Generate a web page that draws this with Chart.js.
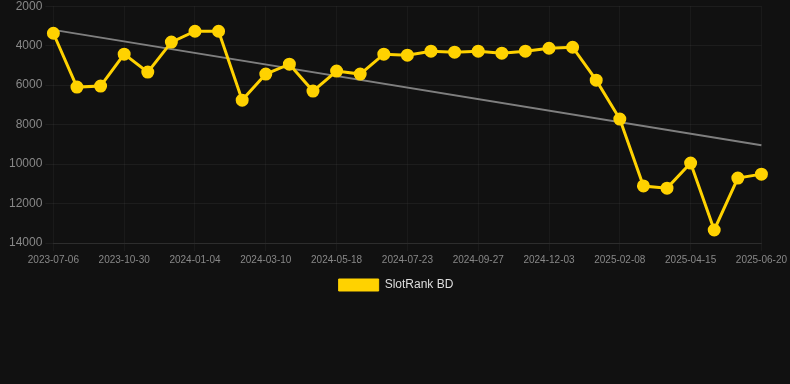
<!DOCTYPE html>
<html>
<head>
<meta charset="utf-8">
<script src="https://cdn.jsdelivr.net/npm/chart.js@4/dist/chart.umd.min.js"></script>
<style>
  html, body { margin: 0; padding: 0; background: #111111; overflow: hidden; }
  #wrap { position: relative; width: 790px; height: 305px; margin-top: -4px; }
</style>
</head>
<body>
<div id="wrap"><canvas id="c"></canvas></div>
<script>
const dates = [
  "2023-07-06","2023-08-12","2023-09-22","2023-10-30","2023-11-21","2023-12-12",
  "2024-01-04","2024-01-26","2024-02-17","2024-03-10","2024-04-02","2024-04-25",
  "2024-05-18","2024-06-08","2024-07-01","2024-07-23","2024-08-14","2024-09-05",
  "2024-09-27","2024-10-19","2024-11-11","2024-12-03","2024-12-25","2025-01-17",
  "2025-02-08","2025-03-01","2025-03-23","2025-04-15","2025-05-07","2025-05-29",
  "2025-06-20"
];
const slotRank = [
  3370, 6100, 6050, 4430, 5340, 3820,
  3270, 3270, 6760, 5440, 4940, 6300,
  5290, 5440, 4430, 4480, 4280, 4330,
  4280, 4380, 4280, 4130, 4080, 5750,
  7720, 11110, 11220, 9950, 13340, 10710,
  10510
];
const trendEnds = [3200, 9050];
const yTicks = [2000, 4000, 6000, 8000, 10000, 12000, 14000];

const trend = dates.map((d, i) => i === 0 ? trendEnds[0] : (i === dates.length - 1 ? trendEnds[1] : null));

new Chart(document.getElementById('c'), {
  type: 'line',
  data: {
    labels: dates,
    datasets: [
      {
        label: 'SlotRank BD',
        data: slotRank,
        borderColor: '#ffd200',
        backgroundColor: '#ffd200',
        borderWidth: 3,
        pointRadius: 5,
        pointHoverRadius: 5,
        pointBackgroundColor: '#ffd200',
        pointBorderColor: '#ffd200',
        tension: 0,
        order: 1
      },
      {
        label: 'trend',
        data: trend,
        spanGaps: true,
        borderColor: 'rgba(140,140,140,0.9)',
        borderWidth: 2,
        pointRadius: 0,
        fill: false,
        order: 2
      }
    ]
  },
  options: {
    responsive: true,
    maintainAspectRatio: false,
    animation: false,
    layout: { padding: { left: 6, right: 4, top: 0, bottom: 0 } },
    plugins: {
      legend: {
        position: 'bottom',
        labels: {
          color: '#dddddd',
          font: { family: 'Arial, "Liberation Sans", sans-serif', size: 12 },
          boxWidth: 40,
          boxHeight: 12,
          generateLabels: (chart) => {
            const items = Chart.defaults.plugins.legend.labels.generateLabels(chart);
            return items.filter(it => it.text !== 'trend').map(it => Object.assign(it, { lineWidth: 1 }));
          }
        }
      },
      tooltip: { enabled: false }
    },
    scales: {
      x: {
        offset: false,
        grid: { color: 'rgba(255,255,255,0.04)', drawTicks: true },
        border: { color: 'rgba(255,255,255,0.08)' },
        ticks: {
          color: '#888888',
          font: { family: 'Arial, "Liberation Sans", sans-serif', size: 10 },
          autoSkip: false,
          maxRotation: 0,
          callback: function(value, index) { return index % 3 === 0 ? this.getLabelForValue(value) : null; }
        }
      },
      y: {
        reverse: true,
        min: 2000,
        max: 14000,
        afterBuildTicks: (axis) => { axis.ticks = yTicks.map(v => ({ value: v })); },
        grid: { color: 'rgba(255,255,255,0.05)' },
        border: { display: false },
        ticks: {
          color: '#888888',
          font: { family: 'Arial, "Liberation Sans", sans-serif', size: 12 },
          callback: (v) => String(v)
        }
      }
    }
  }
});
</script>
</body>
</html>
